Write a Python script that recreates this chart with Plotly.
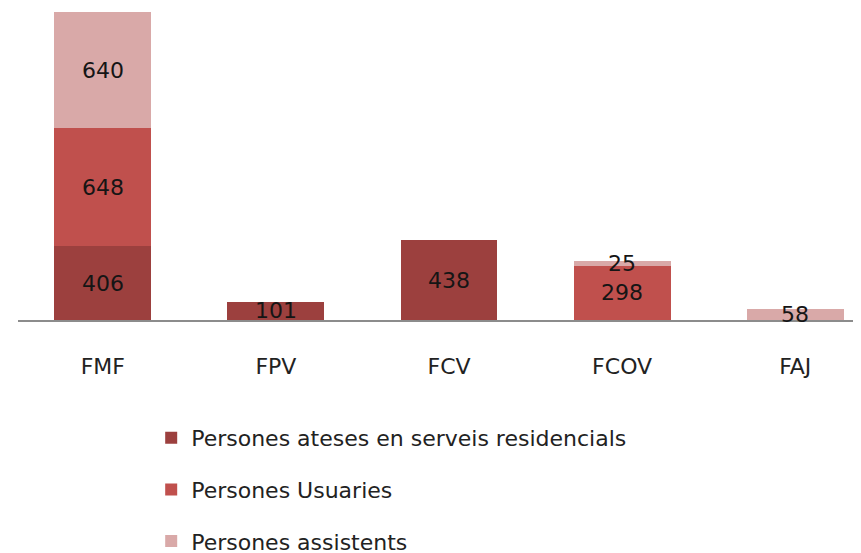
import plotly.graph_objects as go

categories = ["FMF", "FPV", "FCV", "FCOV", "FAJ"]
series_names = ["Persones ateses en serveis residencials", "Persones Usuaries", "Persones assistents"]
ateses = [406, 101, 438, None, None]
usuaries = [648, None, None, 298, None]
assistents = [640, None, None, 25, 58]
colors = ["#9C403E", "#C0504D", "#D9A9A8"]

series = [ateses, usuaries, assistents]
FONT = "DejaVu Sans"

fig = go.Figure()
for i, (name, vals, col) in enumerate(zip(series_names, series, colors)):
    fig.add_trace(go.Bar(
        x=categories, y=[v if v is not None else 0 for v in vals], name=name,
        marker=dict(color=col, line=dict(width=0)),
        width=0.56, legendgroup=f"g{i}", hoverinfo="skip",
    ))

# value labels centered on each segment
annotations = []
for ci, cat in enumerate(categories):
    base = 0
    for vals in series:
        v = vals[ci]
        if v is None:
            continue
        annotations.append(dict(x=cat, y=base + v / 2, text=str(v), showarrow=False,
                                xref="x", yref="y", font=dict(size=22, color="#151515", family=FONT)))
        base += v

fig.update_layout(
    barmode="stack",
    width=853, height=545,
    margin=dict(l=10, r=0, t=2, b=233, autoexpand=False),
    paper_bgcolor="white", plot_bgcolor="white",
    font=dict(family=FONT, size=22, color="#222222"),
    xaxis=dict(range=[-0.49, 4.38], showline=True, linecolor="#8C8C8C", linewidth=2,
               ticks="", showgrid=False, tickfont=dict(size=22, color="#222222"),
               ticklabelstandoff=26),
    yaxis=dict(range=[0, 1705], visible=False, showgrid=False),
    showlegend=True,
    legend=dict(orientation="v", x=0.158, y=-0.313, xanchor="left", yanchor="top",
                traceorder="grouped", tracegroupgap=20, font=dict(size=22, color="#222222"),
                itemwidth=30),
    annotations=annotations,
)

fig.write_html("out.html")
